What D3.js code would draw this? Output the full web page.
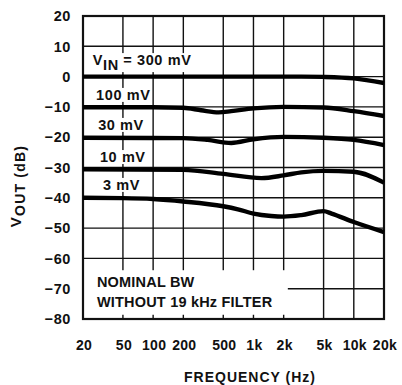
<!DOCTYPE html>
<html>
<head>
<meta charset="utf-8">
<script src="https://cdn.jsdelivr.net/npm/d3@7"></script>
<style>
  html, body { margin: 0; padding: 0; background: #fff; }
  svg { display: block; }
  text { font-family: "Liberation Sans", Arial, sans-serif; font-weight: bold; fill: #111; }
</style>
</head>
<body>
<svg id="chart" width="402" height="385"></svg>
<script>
// Frequency response of the output level for several input levels
const freqTicks = [20, 50, 100, 200, 500, 1000, 2000, 5000, 10000, 20000];
const freqTickLabels = ["20", "50", "100", "200", "500", "1k", "2k", "5k", "10k", "20k"];
const dbTicks = [20, 10, 0, -10, -20, -30, -40, -50, -60, -70, -80];

// Measured curves: [frequency Hz, output dB]
const vin300 = [[20, 0], [100, 0], [1000, 0], [3000, 0], [5000, -0.1], [10000, -0.6], [20000, -2.1]];
const vin100 = [[20, -10.1], [100, -10.1], [200, -10.3], [300, -11.1], [450, -11.8], [600, -11.4], [1000, -10.5], [2000, -10], [5000, -10.2], [10000, -11.4], [20000, -13]];
const vin30  = [[20, -20.2], [200, -20.3], [350, -20.9], [600, -21.9], [1000, -20.7], [2000, -19.9], [5000, -20.2], [10000, -20.9], [20000, -22.6]];
const vin10  = [[20, -30.6], [200, -30.8], [500, -32.1], [1200, -33.5], [2000, -32.6], [3000, -31.6], [5000, -31.1], [10000, -31.4], [20000, -35]];
const vin3   = [[20, -40], [50, -40.1], [100, -40.4], [200, -41.2], [500, -42.8], [700, -43.8], [1000, -45.2], [1500, -46], [2000, -46.2], [3000, -45.7], [5000, -44.4], [6000, -45.2], [10000, -48], [20000, -51.3]];
const curves = [vin300, vin100, vin30, vin10, vin3];

// Curve labels: [frequency, dB at baseline, main text, subscript, trailing text]
const curveLabels = [
  [25, 3.8, "V", "IN", " = 300 mV"],
  [27, -7.7, "100 mV", "", ""],
  [28.3, -17.6, "30 mV", "", ""],
  [29.5, -28.2, "10 mV", "", ""],
  [31.6, -37.4, "3 mV", "", ""]
];
const noteLines = ["NOMINAL BW", "WITHOUT 19 kHz FILTER"];

const svg = d3.select("#chart");
const plotLeft = 83, plotRight = 384, plotTop = 16, plotBottom = 319;

const x = d3.scaleLog().domain([20, 20000]).range([plotLeft, plotRight]);
const y = d3.scaleLinear().domain([-80, 20]).range([plotBottom, plotTop]);

// grid
const grid = svg.append("g").attr("stroke", "#111").attr("stroke-width", 1.4);
grid.selectAll("line.v").data(freqTicks.slice(1, -1)).join("line")
  .attr("class", "v")
  .attr("x1", d => x(d)).attr("x2", d => x(d))
  .attr("y1", plotTop).attr("y2", plotBottom);
grid.selectAll("line.h").data(dbTicks.slice(1, -1)).join("line")
  .attr("class", "h")
  .attr("x1", plotLeft).attr("x2", plotRight)
  .attr("y1", d => y(d)).attr("y2", d => y(d));

// note box knocks out the grid behind it, leaving short ticks at the bottom
const noteG = svg.append("g");
noteG.append("rect")
  .attr("x", plotLeft + 1).attr("y", y(-63.9))
  .attr("width", x(2200) - plotLeft - 1).attr("height", y(-78.6) - y(-63.9))
  .attr("fill", "#fff");
noteG.selectAll("text").data(noteLines).join("text")
  .attr("x", x(27.5))
  .attr("y", (d, i) => y(-69.6) + i * 20)
  .attr("font-size", 14.5)
  .attr("letter-spacing", 0.2)
  .text(d => d);

// frame
svg.append("rect")
  .attr("x", plotLeft).attr("y", plotTop)
  .attr("width", plotRight - plotLeft).attr("height", plotBottom - plotTop)
  .attr("fill", "none").attr("stroke", "#111").attr("stroke-width", 2.2);

// curve labels with white backing
const labG = svg.append("g");
curveLabels.forEach(l => {
  const g = labG.append("g");
  const t = g.append("text")
    .attr("x", x(l[0])).attr("y", y(l[1]))
    .attr("font-size", 14.5)
    .attr("letter-spacing", 0.6);
  t.append("tspan").text(l[2]);
  if (l[3]) {
    t.append("tspan").attr("dy", 5).text(l[3]);
    t.append("tspan").attr("dy", -5).text(l[4]);
  }
  const bb = t.node().getBBox();
  g.insert("rect", "text")
    .attr("x", bb.x - 1).attr("y", bb.y + 1)
    .attr("width", bb.width + 2).attr("height", bb.height - 2)
    .attr("fill", "#fff");
});

// curves
const line = d3.line()
  .x(d => x(d[0])).y(d => y(d[1]))
  .curve(d3.curveMonotoneX);
svg.append("g").selectAll("path").data(curves).join("path")
  .attr("d", line)
  .attr("fill", "none").attr("stroke", "#000")
  .attr("stroke-width", 4.4).attr("stroke-linecap", "butt");

// y tick labels
svg.append("g").selectAll("text").data(dbTicks).join("text")
  .attr("x", 71).attr("y", d => y(d))
  .attr("dy", "0.36em")
  .attr("text-anchor", "end")
  .attr("font-size", 14.5)
  .attr("letter-spacing", 0.6)
  .text(d => d < 0 ? "\u2212" + Math.abs(d) : String(d));

// x tick labels
svg.append("g").selectAll("text").data(freqTicks).join("text")
  .attr("x", d => x(d) + 1)
  .attr("y", 350)
  .attr("text-anchor", "middle")
  .attr("font-size", 14)
  .attr("letter-spacing", 0.3)
  .text((d, i) => freqTickLabels[i]);

// axis titles
svg.append("text")
  .attr("x", 250).attr("y", 382)
  .attr("text-anchor", "middle")
  .attr("font-size", 14)
  .attr("letter-spacing", 1)
  .text("FREQUENCY (Hz)");

const yt = svg.append("text")
  .attr("transform", "translate(21,186) rotate(-90)")
  .attr("text-anchor", "middle")
  .attr("font-size", 15)
  .attr("letter-spacing", 1.2);
yt.append("tspan").text("V");
yt.append("tspan").attr("dy", 4).attr("font-size", 14).text("OUT (dB)");
</script>
</body>
</html>
